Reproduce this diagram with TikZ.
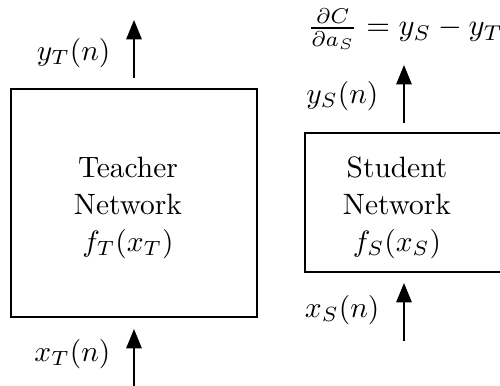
\documentclass[tikz,border=0pt]{standalone}
\usetikzlibrary{arrows.meta}
\begin{document}
\begin{tikzpicture}[x=0.36pt,y=-0.36pt,
  txt/.style={scale=1.06},
  netbox/.style={draw,line width=0.5pt,rectangle,inner sep=0pt},
  netlabel/.style={txt,align=center,inner sep=0pt},
  arr/.style={line width=0.5pt,-{Triangle[length=7pt,width=5.6pt]}},
  sig/.style={txt,anchor=east,inner sep=0pt}]
\useasboundingbox (0,0) rectangle (500,386);
\clip (0,0) rectangle (500,386);
% boxes
\node[netbox,minimum width=88.56pt,minimum height=82.08pt] (teacher) at (134,203) {};
\node[netbox,minimum width=74.16pt,minimum height=50.04pt] (student) at (408,202.5) {};
\node[netlabel] (tlab) at (128,208) {Teacher\\[0.5pt]Network\\[0.5pt]$f_T(x_T)$};
\node[netlabel] (slab) at (397,208) {Student\\[0.5pt]Network\\[0.5pt]$f_S(x_S)$};
% arrow end points
\coordinate (tOutS) at (134,78);
\coordinate (tOutE) at (134,20);
\coordinate (tInS) at (134,392);
\coordinate (tInE) at (134,329);
\coordinate (sOutS) at (404,123);
\coordinate (sOutE) at (404,65);
\coordinate (sInS) at (404,341);
\coordinate (sInE) at (404,283);
\draw[arr] (tOutS) -- (tOutE);
\draw[arr] (tInS) -- (tInE);
\draw[arr] (sOutS) -- (sOutE);
\draw[arr] (sInS) -- (sInE);
% labels
\node[sig] (yT) at (111,53) {$y_T(n)$};
\node[sig] (xT) at (111,354) {$x_T(n)$};
\node[sig] (yS) at (379,96) {$y_S(n)$};
\node[sig] (xS) at (380,310) {$x_S(n)$};
\node[scale=1.1,anchor=west,inner sep=0pt] (grad) at (307,29) {$\frac{\partial C}{\partial a_S}=y_S-y_T$};
\end{tikzpicture}
\end{document}
